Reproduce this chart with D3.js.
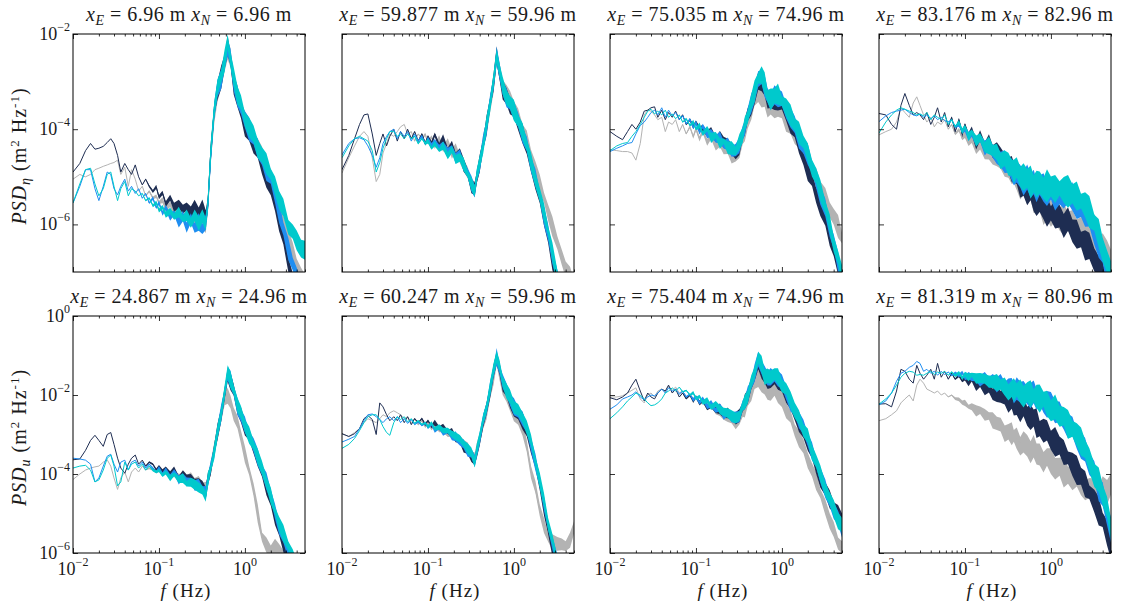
<!DOCTYPE html>
<html><head><meta charset="utf-8">
<script src="https://cdn.jsdelivr.net/npm/d3@7"></script>
<style>
body{margin:0;background:#fff}
svg{display:block}
text{font-family:"Liberation Serif","DejaVu Serif",serif;fill:#1a1a1a}
</style>
</head><body>
<svg id="c" width="1129" height="608"></svg>
<script>
// frequency grid (Hz)
const freqs = [0.010,0.012,0.014,0.016,0.018,0.020,0.0225,0.025,0.0275,0.030,
 0.033,0.036,0.040,0.044,0.048,0.053,0.058,0.064,0.070,0.077,
 0.085,0.093,0.10,0.11,0.12,0.135,0.15,0.17,0.19,0.21,
 0.235,0.26,0.29,0.32,0.35,0.37,0.40,0.44,0.48,0.53,
 0.58,0.63,0.68,0.74,0.82,0.90,1.0,1.12,1.26,1.41,
 1.58,1.78,2.0,2.24,2.5,2.8,3.2,3.6,4.0,4.5,5.0];

const xE = ["6.96","59.877","75.035","83.176","24.867","60.247","75.404","81.319"];
const xN = ["6.96","59.96","74.96","82.96","24.96","59.96","74.96","80.96"];
const seriesKeys = ["gray","navy","blue","cyan"];

// log10 PSD values — top row (eta)
const t1Gray = [-5.05,-4.95,-5.0,-4.95,-4.85,-4.82,-4.78,-4.75,-4.72,-4.7, -4.65,-4.95,-4.8,-5.2,-4.85,-5.05,-5.3,-5.2,-5.4,-5.3, -5.45,-5.4,-5.55,-5.5,-5.65,-5.6,-5.75,-5.7,-5.85,-5.8, -5.9,-5.85,-5.95,-5.9,-6.0,-5.65,-4.55,-3.65,-3.25,-2.95, -2.65,-2.3,-2.55,-3.0,-3.3,-3.55,-3.8,-4.0,-4.2,-4.4, -4.6,-4.85,-5.05,-5.3,-5.6,-5.95,-6.3,-6.6,-6.85,-7.1,-7.3];
const t1Navy = [-4.9,-4.72,-4.45,-4.3,-4.42,-4.4,-4.36,-4.28,-4.2,-4.3, -4.55,-4.9,-4.72,-4.85,-4.95,-4.75,-5.0,-5.17,-5.05,-5.2, -5.3,-5.22,-5.42,-5.35,-5.55,-5.45,-5.65,-5.55,-5.7,-5.6, -5.75,-5.65,-5.75,-5.65,-5.8,-5.6,-4.5,-3.6,-3.2,-2.9, -2.6,-2.25,-2.55,-3.05,-3.35,-3.65,-3.9,-4.1,-4.3,-4.5, -4.75,-5.0,-5.25,-5.55,-5.9,-6.3,-6.8,-7.2,-7.5,-7.8,-8.0];
const t1Blue = [-5.55,-5.2,-4.85,-4.85,-5.25,-5.5,-5.2,-4.9,-4.95,-5.25, -5.38,-5.2,-5.05,-5.3,-5.2,-5.35,-5.25,-5.45,-5.35,-5.55, -5.45,-5.65,-5.55,-5.75,-5.65,-5.85,-5.75,-5.95,-5.85,-6.05, -5.9,-6.05,-5.95,-6.1,-5.95,-5.65,-4.55,-3.6,-3.2,-2.9, -2.6,-2.25,-2.55,-3.0,-3.3,-3.55,-3.8,-4.0,-4.2,-4.4, -4.6,-4.85,-5.05,-5.35,-5.75,-6.1,-6.5,-6.8,-7.1,-7.4,-7.6];
const t1Cyan = [-5.55,-5.15,-4.85,-4.82,-5.15,-5.4,-5.25,-4.95,-4.9,-5.2, -5.5,-5.25,-5.1,-5.4,-5.25,-5.3,-5.4,-5.35,-5.5,-5.45, -5.6,-5.55,-5.7,-5.65,-5.8,-5.7,-5.85,-5.75,-5.9,-5.8, -5.95,-5.85,-5.95,-5.85,-5.95,-5.6,-4.5,-3.55,-3.15,-2.85, -2.55,-2.2,-2.5,-2.95,-3.25,-3.5,-3.75,-3.95,-4.15,-4.35, -4.55,-4.75,-4.95,-5.2,-5.45,-5.7,-6.0,-6.2,-6.35,-6.45,-6.6];

const t2Gray = [-4.92,-4.6,-4.35,-4.15,-4.05,-4.15,-4.6,-5.1,-4.95,-4.5, -4.3,-4.1,-4.15,-4.05,-3.95,-3.9,-4.1,-4.05,-4.25,-4.1, -4.2,-4.1,-4.3,-4.15,-4.35,-4.2,-4.4,-4.3,-4.5,-4.4, -4.6,-4.75,-4.95,-5.15,-5.25,-5.0,-4.75,-4.3,-3.95,-3.5, -3.05,-2.5,-2.8,-3.05,-3.25,-3.4,-3.55,-3.75,-4.0,-4.25, -4.55,-4.85,-5.15,-5.45,-5.75,-6.05,-6.4,-6.7,-6.9,-7.1,-7.3];
const t2Navy = [-4.85,-4.55,-4.2,-3.9,-3.7,-3.68,-4.1,-4.55,-4.3,-4.1, -4.35,-4.15,-4.0,-4.25,-4.05,-4.2,-4.0,-4.2,-4.05,-4.25, -4.1,-4.3,-4.15,-4.3,-4.1,-4.35,-4.2,-4.45,-4.35,-4.55, -4.5,-4.75,-4.9,-5.2,-5.3,-5.0,-4.7,-4.3,-3.94,-3.45, -3.0,-2.45,-2.85,-3.15,-3.35,-3.5,-3.65,-3.85,-4.1,-4.4, -4.75,-5.05,-5.45,-5.85,-6.25,-6.75,-7.2,-7.6,-8,-8,-8];
const t2Blue = [-4.54,-4.3,-4.2,-4.18,-4.22,-4.35,-4.55,-4.8,-4.6,-4.3, -4.15,-4.05,-4.0,-4.2,-4.05,-4.15,-4.05,-4.25,-4.1,-4.25, -4.15,-4.3,-4.2,-4.35,-4.25,-4.4,-4.3,-4.5,-4.4,-4.6, -4.55,-4.75,-4.95,-5.15,-5.3,-5.0,-4.7,-4.3,-3.95,-3.45, -3.0,-2.42,-2.82,-3.12,-3.32,-3.48,-3.62,-3.82,-4.08,-4.38, -4.72,-5.02,-5.4,-5.8,-6.2,-6.65,-7.1,-7.5,-8,-8,-8];
const t2Cyan = [-4.6,-4.35,-4.2,-4.15,-4.2,-4.25,-4.45,-4.9,-4.7,-4.4, -4.2,-4.05,-4.05,-4.15,-4.1,-4.2,-4.1,-4.2,-4.15,-4.3, -4.2,-4.3,-4.25,-4.4,-4.3,-4.45,-4.35,-4.55,-4.45,-4.6, -4.6,-4.75,-4.95,-5.15,-5.25,-5.0,-4.7,-4.3,-3.95,-3.45, -3.0,-2.4,-2.8,-3.1,-3.3,-3.45,-3.6,-3.8,-4.05,-4.35, -4.7,-5.0,-5.4,-5.75,-6.15,-6.6,-7.1,-7.5,-8,-8,-8];

const t3Gray = [-4.43,-4.45,-4.47,-4.47,-4.5,-4.65,-4.3,-3.7,-3.6,-3.62, -3.7,-3.8,-3.75,-4.05,-3.85,-3.9,-3.8,-4.05,-3.9,-4.1, -3.95,-4.15,-4.0,-4.2,-4.05,-4.25,-4.15,-4.35,-4.25,-4.45, -4.4,-4.55,-4.55,-4.45,-4.2,-4.05,-3.85,-3.6,-3.4,-3.25, -3.3,-3.4,-3.55,-3.6,-3.55,-3.55,-3.65,-3.8,-3.95,-4.1, -4.3,-4.5,-4.7,-4.9,-5.05,-5.25,-5.45,-5.65,-5.85,-6.05,-6.3];
const t3Navy = [-4.05,-4.15,-4.22,-4.05,-3.9,-4.0,-3.85,-3.62,-3.6,-3.55, -3.53,-3.75,-3.6,-3.8,-3.65,-3.75,-3.62,-3.8,-3.7,-3.9, -3.8,-3.95,-3.85,-4.0,-3.95,-4.1,-4.05,-4.2,-4.15,-4.3, -4.3,-4.45,-4.5,-4.35,-4.1,-3.95,-3.75,-3.5,-3.3,-3.05, -2.95,-3.15,-3.35,-3.45,-3.4,-3.38,-3.45,-3.65,-3.85,-4.05, -4.3,-4.6,-4.85,-5.1,-5.35,-5.6,-5.9,-6.2,-6.5,-6.85,-7.2];
const t3Blue = [-4.47,-4.4,-4.35,-4.3,-4.28,-4.1,-3.92,-3.85,-3.75,-3.65, -3.6,-3.7,-3.55,-3.75,-3.6,-3.72,-3.65,-3.8,-3.72,-3.88, -3.8,-3.95,-3.88,-4.05,-3.95,-4.12,-4.05,-4.22,-4.18,-4.35, -4.3,-4.45,-4.48,-4.3,-4.1,-3.95,-3.72,-3.48,-3.22,-2.98, -2.88,-3.08,-3.32,-3.38,-3.33,-3.3,-3.42,-3.58,-3.75,-3.95, -4.15,-4.35,-4.55,-4.8,-5.05,-5.35,-5.7,-6.05,-6.4,-6.8,-7.2];
const t3Cyan = [-4.45,-4.35,-4.3,-4.28,-4.15,-4.05,-3.9,-3.75,-3.62,-3.58, -3.68,-3.62,-3.7,-3.6,-3.75,-3.68,-3.78,-3.7,-3.85,-3.78, -3.92,-3.85,-4.0,-3.92,-4.08,-4.0,-4.18,-4.12,-4.3,-4.25, -4.4,-4.38,-4.45,-4.3,-4.08,-3.92,-3.7,-3.45,-3.2,-2.95, -2.85,-3.05,-3.3,-3.35,-3.3,-3.28,-3.4,-3.55,-3.7,-3.9, -4.1,-4.3,-4.5,-4.75,-5.0,-5.3,-5.65,-6.0,-6.35,-6.75,-7.1];

const t4Gray = [-4.12,-4.05,-4.0,-3.85,-3.55,-3.65,-3.75,-3.45,-3.32,-3.5, -3.7,-3.85,-3.75,-3.95,-3.85,-3.9,-3.8,-4.0,-3.9,-4.1, -4.0,-4.2,-4.1,-4.3,-4.2,-4.4,-4.35,-4.5,-4.45,-4.6, -4.6,-4.7,-4.75,-4.85,-4.9,-5.0,-5.05,-5.15,-5.2,-5.3, -5.35,-5.45,-5.5,-5.55,-5.65,-5.7,-5.75,-5.8,-5.85,-5.9, -5.95,-6.0,-6.05,-6.1,-6.15,-6.2,-6.3,-6.4,-6.5,-6.6,-6.7];
const t4Navy = [-3.67,-3.7,-3.9,-4.0,-3.5,-3.25,-3.5,-3.7,-3.65,-3.7, -3.8,-3.65,-3.9,-3.75,-3.55,-3.85,-3.65,-3.95,-3.75,-4.05, -3.8,-4.1,-3.9,-4.15,-4.05,-4.3,-4.15,-4.35,-4.3,-4.45, -4.45,-4.6,-4.65,-4.8,-4.85,-4.9,-5.0,-5.1,-5.2,-5.3, -5.35,-5.45,-5.5,-5.55,-5.65,-5.7,-5.75,-5.8,-5.85,-5.95, -6.0,-6.1,-6.2,-6.3,-6.4,-6.5,-6.7,-6.9,-7.1,-7.4,-7.7];
const t4Blue = [-3.84,-3.72,-3.65,-3.62,-3.6,-3.58,-3.65,-3.7,-3.72,-3.68, -3.75,-3.7,-3.78,-3.72,-3.8,-3.75,-3.82,-3.85,-3.8,-3.95, -3.9,-4.05,-4.0,-4.15,-4.1,-4.25,-4.2,-4.4,-4.3,-4.5, -4.5,-4.65,-4.7,-4.8,-4.85,-4.9,-4.95,-5.0,-5.05,-5.1, -5.15,-5.15,-5.2,-5.25,-5.25,-5.3,-5.3,-5.35,-5.35,-5.38, -5.4,-5.45,-5.55,-5.65,-5.75,-5.9,-6.15,-6.35,-6.6,-6.95,-7.3];
const t4Cyan = [-4.08,-3.85,-3.7,-3.6,-3.55,-3.58,-3.62,-3.65,-3.7,-3.68, -3.72,-3.65,-3.8,-3.7,-3.75,-3.8,-3.7,-3.9,-3.8,-3.95, -3.85,-4.05,-3.95,-4.15,-4.05,-4.25,-4.2,-4.35,-4.35,-4.45, -4.5,-4.6,-4.65,-4.75,-4.8,-4.85,-4.9,-4.95,-5.0,-5.05, -5.1,-5.1,-5.15,-5.2,-5.2,-5.2,-5.22,-5.25,-5.25,-5.27, -5.3,-5.35,-5.4,-5.5,-5.6,-5.75,-6.0,-6.2,-6.45,-6.8,-7.1];

// log10 PSD values — bottom row (u)
const b1Gray = [-4.14,-4.0,-3.9,-3.85,-3.82,-3.8,-3.7,-3.64,-3.8,-4.1, -4.39,-4.1,-3.95,-4.2,-3.95,-3.85,-3.95,-3.8,-3.9,-3.85, -3.9,-3.95,-3.9,-4.0,-3.95,-4.05,-4.0,-4.1,-4.05,-4.15, -4.1,-4.2,-4.2,-4.3,-4.4,-4.2,-3.85,-3.4,-2.95,-2.5, -2.15,-1.98,-2.2,-2.45,-2.75,-3.05,-3.5,-3.9,-4.4,-5.0, -5.6,-5.8,-5.9,-5.85,-5.95,-6.05,-6.2,-6.35,-6.5,-6.7,-6.9];
const b1Navy = [-3.64,-3.62,-3.4,-3.15,-3.02,-3.15,-3.3,-3.0,-2.95,-3.25, -3.6,-3.85,-3.98,-3.75,-3.6,-3.52,-3.75,-3.65,-3.8,-3.7, -3.75,-3.9,-3.8,-3.95,-3.85,-4.0,-3.9,-4.1,-4.0,-4.15, -4.1,-4.25,-4.2,-4.35,-4.45,-4.15,-3.85,-3.4,-2.95,-2.45, -2.0,-1.5,-1.65,-1.9,-2.3,-2.55,-2.8,-3.05,-3.3,-3.6, -3.95,-4.3,-4.65,-5.1,-5.45,-5.8,-6.2,-6.6,-6.9,-7.2,-7.5];
const b1Blue = [-3.6,-3.62,-3.65,-3.75,-4.2,-4.1,-3.8,-3.55,-3.5,-3.75, -3.95,-3.7,-3.65,-3.9,-3.7,-3.65,-3.8,-3.7,-3.85,-3.75, -3.85,-3.95,-3.85,-4.0,-3.9,-4.05,-3.95,-4.15,-4.05,-4.2, -4.15,-4.3,-4.25,-4.4,-4.5,-4.15,-3.85,-3.4,-2.95,-2.45, -2.0,-1.45,-1.62,-1.88,-2.27,-2.52,-2.77,-3.02,-3.27,-3.57, -3.9,-4.2,-4.55,-4.95,-5.3,-5.6,-5.95,-6.25,-6.55,-6.85,-7.15];
const b1Cyan = [-3.85,-3.8,-3.78,-3.9,-4.2,-4.15,-3.9,-3.6,-3.52,-3.8, -4.3,-4.2,-3.7,-3.9,-3.75,-3.7,-3.85,-3.75,-3.9,-3.8, -3.9,-3.95,-3.9,-4.05,-3.95,-4.1,-4.0,-4.15,-4.1,-4.25, -4.2,-4.3,-4.3,-4.45,-4.55,-4.15,-3.85,-3.4,-2.95,-2.45, -2.0,-1.4,-1.6,-1.85,-2.25,-2.5,-2.75,-3.0,-3.25,-3.55, -3.9,-4.2,-4.55,-4.95,-5.25,-5.5,-5.8,-6.1,-6.4,-6.7,-7.0];

const b2Gray = [-2.98,-3.05,-2.95,-2.85,-2.7,-2.6,-2.65,-2.7,-2.6,-2.5, -2.55,-2.45,-2.4,-2.45,-2.5,-2.6,-2.55,-2.7,-2.6,-2.75, -2.65,-2.8,-2.7,-2.85,-2.75,-2.9,-2.85,-3.0,-2.95,-3.1, -3.1,-3.25,-3.35,-3.5,-3.6,-3.4,-3.1,-2.75,-2.4,-1.95, -1.55,-1.15,-1.45,-1.8,-2.05,-2.25,-2.45,-2.65,-2.85,-3.3, -3.9,-4.4,-4.9,-5.3,-5.6,-5.7,-5.8,-5.75,-5.85,-5.7,-5.3];
const b2Navy = [-2.98,-3.05,-2.98,-2.85,-2.6,-2.52,-2.62,-3.0,-2.2,-2.3, -2.5,-2.65,-2.55,-2.65,-2.5,-2.7,-2.55,-2.75,-2.6,-2.7, -2.6,-2.75,-2.65,-2.8,-2.7,-2.85,-2.8,-2.95,-2.95,-3.1, -3.15,-3.3,-3.4,-3.55,-3.7,-3.45,-3.1,-2.7,-2.35,-1.85, -1.45,-1.05,-1.35,-1.7,-1.95,-2.15,-2.35,-2.5,-2.65,-2.9, -3.3,-3.75,-4.25,-4.85,-5.4,-5.9,-6.4,-6.8,-7.1,-7.4,-7.7];
const b2Blue = [-3.19,-3.12,-3.05,-2.85,-2.65,-2.5,-2.48,-2.55,-2.62,-2.7, -2.6,-2.55,-2.65,-2.55,-2.7,-2.6,-2.72,-2.62,-2.75,-2.68, -2.78,-2.7,-2.82,-2.75,-2.88,-2.82,-2.95,-2.92,-3.05,-3.05, -3.2,-3.25,-3.4,-3.5,-3.68,-3.45,-3.08,-2.68,-2.32,-1.82, -1.42,-1.02,-1.32,-1.65,-1.9,-2.1,-2.3,-2.45,-2.6,-2.85, -3.25,-3.7,-4.2,-4.75,-5.3,-5.75,-6.25,-6.7,-7.0,-7.3,-7.6];
const b2Cyan = [-3.35,-3.25,-3.1,-2.9,-2.7,-2.55,-2.5,-2.5,-2.62,-2.8, -2.95,-3.02,-2.7,-2.55,-2.62,-2.55,-2.68,-2.6,-2.72,-2.65, -2.75,-2.7,-2.8,-2.72,-2.85,-2.8,-2.92,-2.88,-3.0,-3.02, -3.15,-3.2,-3.35,-3.48,-3.65,-3.42,-3.05,-2.65,-2.3,-1.8, -1.4,-1.0,-1.3,-1.62,-1.88,-2.08,-2.28,-2.42,-2.55,-2.8, -3.2,-3.65,-4.15,-4.7,-5.25,-5.7,-6.2,-6.6,-7.0,-7.3,-7.6];

const b3Gray = [-2.05,-2.05,-2.02,-1.95,-1.88,-1.82,-2.1,-2.2,-2.0,-1.95, -2.05,-1.9,-1.85,-1.92,-1.78,-1.88,-1.8,-1.95,-1.9,-2.05, -2.0,-2.1,-2.05,-2.2,-2.15,-2.3,-2.25,-2.4,-2.4,-2.55, -2.55,-2.65,-2.7,-2.6,-2.45,-2.35,-2.15,-1.95,-1.75,-1.6, -1.7,-1.85,-1.95,-1.9,-1.9,-2.0,-2.15,-2.35,-2.6,-2.85, -3.1,-3.35,-3.6,-3.9,-4.2,-4.5,-4.85,-5.15,-5.45,-5.7,-5.9];
const b3Navy = [-2.07,-2.12,-2.05,-1.95,-1.75,-1.6,-1.9,-2.15,-1.95,-2.05, -2.1,-1.95,-1.85,-1.9,-1.75,-1.95,-1.85,-2.05,-1.95,-2.1, -2.0,-2.15,-2.05,-2.2,-2.15,-2.3,-2.25,-2.4,-2.35,-2.5, -2.45,-2.55,-2.6,-2.5,-2.3,-2.2,-2.0,-1.75,-1.45,-1.2, -1.35,-1.6,-1.65,-1.6,-1.6,-1.62,-1.75,-2.0,-2.25,-2.45, -2.7,-2.95,-3.2,-3.5,-3.8,-4.1,-4.4,-4.65,-4.85,-5.0,-5.1];
const b3Blue = [-2.36,-2.25,-2.1,-2.05,-2.0,-1.92,-2.05,-2.12,-2.05,-2.0, -2.02,-1.95,-1.85,-1.95,-1.82,-1.9,-1.85,-1.98,-1.9,-2.05, -1.98,-2.12,-2.05,-2.18,-2.12,-2.28,-2.22,-2.38,-2.32,-2.48, -2.45,-2.55,-2.6,-2.5,-2.3,-2.2,-2.0,-1.72,-1.42,-1.12, -1.27,-1.52,-1.57,-1.52,-1.52,-1.57,-1.72,-1.92,-2.17,-2.37, -2.62,-2.87,-3.12,-3.42,-3.72,-4.02,-4.37,-4.67,-4.92,-5.17,-5.35];
const b3Cyan = [-2.6,-2.45,-2.3,-2.15,-2.05,-1.95,-2.0,-2.1,-2.2,-2.27, -2.25,-2.2,-2.1,-1.95,-1.9,-1.82,-1.9,-1.8,-1.92,-1.88, -2.0,-1.95,-2.08,-2.05,-2.18,-2.15,-2.28,-2.25,-2.38,-2.4, -2.5,-2.5,-2.6,-2.5,-2.3,-2.2,-2.0,-1.7,-1.4,-1.1, -1.25,-1.5,-1.55,-1.5,-1.5,-1.55,-1.7,-1.9,-2.15,-2.35, -2.6,-2.85,-3.1,-3.4,-3.7,-4.0,-4.35,-4.65,-4.9,-5.15,-5.3];

const b4Gray = [-2.65,-2.6,-2.5,-2.4,-2.2,-2.1,-2.0,-2.15,-1.75,-1.6, -1.7,-1.85,-1.9,-1.95,-1.9,-2.0,-1.95,-2.05,-2.0,-2.1, -2.1,-2.2,-2.2,-2.3,-2.3,-2.4,-2.4,-2.5,-2.55,-2.65, -2.7,-2.8,-2.9,-2.95,-3.0,-3.05,-3.1,-3.2,-3.25,-3.3, -3.35,-3.4,-3.45,-3.55,-3.6,-3.65,-3.7,-3.8,-3.85,-3.95, -4.0,-4.1,-4.15,-4.25,-4.3,-4.4,-4.45,-4.5,-4.45,-4.4,-4.3];
const b4Navy = [-2.23,-2.22,-2.3,-1.9,-1.35,-1.4,-1.6,-1.7,-1.25,-1.45, -1.6,-1.5,-1.35,-1.6,-1.2,-1.55,-1.4,-1.6,-1.45,-1.6, -1.5,-1.65,-1.55,-1.7,-1.6,-1.75,-1.7,-1.85,-1.85,-1.95, -1.95,-2.05,-2.05,-2.15,-2.2,-2.25,-2.3,-2.35,-2.4,-2.48, -2.55,-2.6,-2.7,-2.8,-2.9,-2.98,-3.1,-3.2,-3.3,-3.45, -3.6,-3.75,-3.9,-4.05,-4.25,-4.45,-4.7,-4.95,-5.2,-5.5,-5.8];
const b4Blue = [-2.25,-2.15,-1.95,-1.65,-1.45,-1.4,-1.3,-1.25,-1.15,-1.2, -1.4,-1.35,-1.45,-1.4,-1.5,-1.4,-1.48,-1.42,-1.5,-1.45, -1.5,-1.45,-1.55,-1.5,-1.58,-1.55,-1.62,-1.6,-1.65,-1.65, -1.7,-1.72,-1.78,-1.82,-1.85,-1.88,-1.9,-1.9,-1.95,-1.95, -1.98,-2.0,-2.05,-2.08,-2.15,-2.2,-2.3,-2.38,-2.5,-2.6, -2.75,-2.9,-3.05,-3.25,-3.45,-3.7,-4.0,-4.3,-4.6,-5.0,-5.4];
const b4Cyan = [-2.23,-2.1,-1.95,-1.75,-1.55,-1.45,-1.4,-1.42,-1.5,-1.48, -1.5,-1.45,-1.4,-1.48,-1.42,-1.45,-1.4,-1.5,-1.42,-1.5, -1.45,-1.55,-1.48,-1.55,-1.5,-1.6,-1.55,-1.62,-1.6,-1.68, -1.7,-1.75,-1.8,-1.85,-1.88,-1.9,-1.9,-1.92,-1.95,-1.95, -1.98,-2.0,-2.05,-2.1,-2.15,-2.22,-2.3,-2.38,-2.48,-2.6, -2.72,-2.85,-3.0,-3.2,-3.4,-3.65,-3.95,-4.2,-4.5,-4.9,-5.3];

// half-width (decades) of the dense high-frequency scatter band, per panel
const bandHalfWidth = [0.17,0.15,0.17,0.24,0.16,0.15,0.17,0.26];
// irregular raggedness of the band edges (read as spike pattern of the scatter)
const edgeJag = [0,0.3,-0.4,0.8,-0.2,0.5,-0.7,0.1,0.9,-0.5, 0.4,-0.9,0.6,0.2,-0.6,1.0,-0.3,0.5,-0.8,0.3, 0.7,-0.4,0.0,0.9,-0.6,0.4,-0.2,0.8,-0.9,0.3, 0.6,-0.5,1.0,-0.1,0.4,-0.7,0.2,0.8,-0.4,0.5, -0.8,0.3,0.9,-0.3,0.6,-0.6,0.1,0.7,-0.9,0.4, 0.8,-0.2,0.5,-0.7,1.0,-0.4,0.3,0.6,-0.5,0.2,0.9];

const yTicksTop = [1e-6,1e-4,1e-2];
const yTicksBottom = [1e-6,1e-4,1e-2,1];
const xTicksMajor = [0.01,0.1,1];

const panels = [
  {gray:t1Gray,navy:t1Navy,blue:t1Blue,cyan:t1Cyan},
  {gray:t2Gray,navy:t2Navy,blue:t2Blue,cyan:t2Cyan},
  {gray:t3Gray,navy:t3Navy,blue:t3Blue,cyan:t3Cyan},
  {gray:t4Gray,navy:t4Navy,blue:t4Blue,cyan:t4Cyan},
  {gray:b1Gray,navy:b1Navy,blue:b1Blue,cyan:b1Cyan},
  {gray:b2Gray,navy:b2Navy,blue:b2Blue,cyan:b2Cyan},
  {gray:b3Gray,navy:b3Navy,blue:b3Blue,cyan:b3Cyan},
  {gray:b4Gray,navy:b4Navy,blue:b4Blue,cyan:b4Cyan}
];

const colors = {gray:"#b3b3b3", navy:"#1e2d52", blue:"#1f8ef1", cyan:"#00c9cc"};
const lefts = [73,342,610,879], PW = 232;
const rows = [
  {top:34,bottom:272,dom:[1e-7,1e-2],ticks:yTicksTop,sub:"η"},
  {top:316,bottom:553,dom:[1e-6,1],ticks:yTicksBottom,sub:"u"}
];
const minorX = [];
[0.01,0.1,1].forEach(d=>{for(let m=2;m<=9;m++){const v=m*d; if(v<=5.0001) minorX.push(v);}});

const svg = d3.select("#c");
const defs = svg.append("defs");
const supStr = v => {const e=Math.round(Math.log10(v)); return e<0 ? "\u2212"+(-e) : String(e);};
const N = freqs.length;

panels.forEach((p,i)=>{
  const r = Math.floor(i/4), c = i%4, row = rows[r], x0 = lefts[c];
  const x = d3.scaleLog().domain([0.01,5]).range([x0,x0+PW]);
  const y = d3.scaleLog().domain(row.dom).range([row.bottom,row.top]);
  defs.append("clipPath").attr("id","cp"+i).append("rect")
    .attr("x",x0).attr("y",row.top).attr("width",PW).attr("height",row.bottom-row.top);
  const plot = svg.append("g").attr("clip-path",`url(#cp${i})`);
  const hw = bandHalfWidth[i];
  const wOf = f => hw*Math.max(0,Math.min(1,(Math.log10(f)+1.22)/0.92));
  seriesKeys.forEach((k,s)=>{
    const pts = freqs.map((f,j)=>({f,v:p[k][j],
      up:1+0.5*edgeJag[(j+11*s+5*i)%N], dn:1+0.5*edgeJag[(j+23+7*s+3*i)%N]}));
    plot.append("path").datum(pts)
      .attr("d",d3.area().x(d=>x(d.f))
        .y0(d=>y(Math.pow(10,d.v-wOf(d.f)*d.dn)))
        .y1(d=>y(Math.pow(10,d.v+wOf(d.f)*d.up))))
      .attr("fill",colors[k]).attr("stroke","none");
    plot.append("path").datum(pts)
      .attr("d",d3.line().x(d=>x(d.f)).y(d=>y(Math.pow(10,d.v))))
      .attr("fill","none").attr("stroke",colors[k]).attr("stroke-width",1.0).attr("stroke-linejoin","round");
  });

  // axes ticks (inward, MATLAB style)
  const ax = svg.append("g").attr("class","axes");
  const addAxis = (axis, tx, ty) => {
    const g = ax.append("g").attr("transform",`translate(${tx},${ty})`).call(axis);
    g.select(".domain").remove();
    g.selectAll(".tick line").attr("stroke","#000").attr("stroke-width",0.8);
    g.selectAll(".tick text").remove();
  };
  addAxis(d3.axisBottom(x).tickValues(xTicksMajor).tickSize(-5),0,row.bottom);
  addAxis(d3.axisBottom(x).tickValues(minorX).tickSize(-2.5),0,row.bottom);
  addAxis(d3.axisTop(x).tickValues(xTicksMajor).tickSize(-5),0,row.top);
  addAxis(d3.axisTop(x).tickValues(minorX).tickSize(-2.5),0,row.top);
  addAxis(d3.axisLeft(y).tickValues(row.ticks).tickSize(-5),x0,0);
  addAxis(d3.axisRight(y).tickValues(row.ticks).tickSize(-5),x0+PW,0);
  ax.append("rect").attr("x",x0).attr("y",row.top).attr("width",PW).attr("height",row.bottom-row.top)
    .attr("fill","none").attr("stroke","#000").attr("stroke-width",1);

  // title
  const t = svg.append("text").attr("x",x0+PW/2).attr("y",row.top-13).attr("text-anchor","middle")
    .attr("font-size",20).attr("letter-spacing",0.5);
  t.append("tspan").attr("font-style","italic").text("x");
  t.append("tspan").attr("font-style","italic").attr("font-size",14).attr("dy",4).text("E");
  t.append("tspan").attr("dy",-4).text(` = ${xE[i]} m `);
  t.append("tspan").attr("font-style","italic").text("x");
  t.append("tspan").attr("font-style","italic").attr("font-size",14).attr("dy",4).text("N");
  t.append("tspan").attr("dy",-4).text(` = ${xN[i]} m`);

  // y tick labels (first column)
  if (c===0) {
    row.ticks.forEach(v=>{
      const tt = svg.append("text").attr("x",x0-3).attr("y",y(v)+6).attr("text-anchor","end").attr("font-size",18);
      tt.append("tspan").text("10");
      tt.append("tspan").attr("font-size",12).attr("dy",-9).text(supStr(v));
    });
    const yl = svg.append("text").attr("transform",`translate(26,${(row.top+row.bottom)/2 + 3}) rotate(-90)`)
      .attr("text-anchor","middle").attr("font-size",20).attr("letter-spacing",1);
    yl.append("tspan").attr("font-style","italic").text("PSD");
    yl.append("tspan").attr("font-style","italic").attr("font-size",14).attr("dy",4).text(row.sub);
    yl.append("tspan").attr("dy",-4).text(" (m");
    yl.append("tspan").attr("font-size",13).attr("dy",-7).text("2");
    yl.append("tspan").attr("dy",7).text(" Hz");
    yl.append("tspan").attr("font-size",13).attr("dy",-7).text("-1");
    yl.append("tspan").attr("dy",7).text(")");
  }
  // x tick labels (bottom row)
  if (r===1) {
    xTicksMajor.forEach(v=>{
      const tt = svg.append("text").attr("x",x(v)).attr("y",row.bottom+22).attr("text-anchor","middle").attr("font-size",18);
      tt.append("tspan").text("10");
      tt.append("tspan").attr("font-size",12).attr("dy",-9).text(supStr(v));
    });
    const xl = svg.append("text").attr("x",x0+PW/2-3).attr("y",row.bottom+44).attr("text-anchor","middle")
      .attr("font-size",19).attr("letter-spacing",1);
    xl.append("tspan").attr("font-style","italic").text("f");
    xl.append("tspan").text(" (Hz)");
  }
});
</script>
</body></html>
